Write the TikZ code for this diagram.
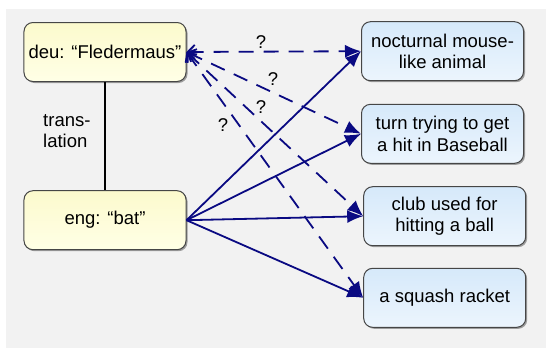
\documentclass[tikz,border=0pt]{standalone}
\usepackage{fontspec}
\setmainfont{Liberation Sans}
\usetikzlibrary{arrows.meta,shadows}
\definecolor{bg}{RGB}{242,242,242}
\definecolor{navy}{RGB}{10,10,130}
\definecolor{ytop}{RGB}{252,250,205}
\definecolor{ybot}{RGB}{255,255,230}
\definecolor{btop}{RGB}{214,233,250}
\definecolor{bbot}{RGB}{236,245,253}
\definecolor{frame}{RGB}{70,70,70}
\tikzset{
  box/.style={draw=frame, line width=1bp, rounded corners=9bp, minimum width=162bp, minimum height=59bp,
    inner sep=0pt, align=center, font=\fontsize{18.5bp}{21.5bp}\selectfont,
    drop shadow={shadow xshift=1.5bp, shadow yshift=-1.5bp, opacity=0.35, fill=black}},
  ybox/.style={box, top color=ytop, bottom color=ybot},
  bbox/.style={box, top color=btop, bottom color=bbot},
  solidarrow/.style={draw=navy, line width=1.8bp, -{Latex[length=16bp,width=13bp]}},
  dasharrow/.style={draw=navy, line width=1.8bp, dash pattern=on 15bp off 10bp,
    {Straight Barb[length=7bp,width=14bp]}-{Latex[length=16bp,width=13bp]}},
  qmark/.style={font=\fontsize{18.5bp}{21.5bp}\selectfont, inner sep=0pt},
  lbl/.style={font=\fontsize{18.5bp}{21bp}\selectfont, align=left, inner sep=0pt}
}
\begin{document}
\begin{tikzpicture}[x=1bp,y=-1bp]
\useasboundingbox (0,0) rectangle (546,348);
\fill[bg] (6,9) rectangle (546,348);
\node[ybox] (deu) at (105,52) {deu: “Fledermaus”};
\node[ybox] (eng) at (105,220.2) {eng: “bat”};
\node[bbox] (m1) at (442.5,51.2) {nocturnal mouse-\\like animal};
\node[bbox] (m2) at (442.5,133.8) {turn trying to get\\a hit in Baseball};
\node[bbox] (m3) at (444.7,216.2) {club used for\\hitting a ball};
\node[bbox] (m4) at (444.7,297.8) {a squash racket};
\draw[black, line width=1.5bp] (deu.south) -- (eng.north);
\node[lbl, anchor=west] (tr) at (43,131) {trans-\\lation};
\draw[dasharrow] (deu.east) -- (m1.west);
\draw[dasharrow] (deu.east) -- (m2.west);
\draw[dasharrow] (deu.east) -- (m3.west);
\draw[dasharrow] (deu.east) -- (m4.west);
\draw[solidarrow] (eng.east) -- (m1.west);
\draw[solidarrow] (eng.east) -- (m2.west);
\draw[solidarrow] (eng.east) -- (m3.west);
\draw[solidarrow] (eng.east) -- (m4.west);
\node[qmark] (q1) at (261,42) {?};
\node[qmark] (q2) at (273,79) {?};
\node[qmark] (q3) at (261,107) {?};
\node[qmark] (q4) at (223,125) {?};
\end{tikzpicture}
\end{document}
